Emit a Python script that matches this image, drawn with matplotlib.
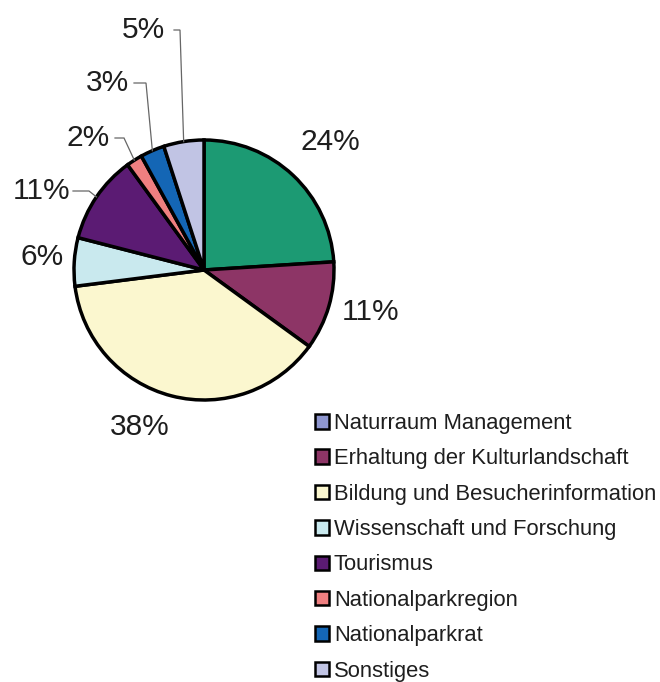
import numpy as np
import matplotlib
matplotlib.use("Agg")
import matplotlib.pyplot as plt
from matplotlib.patches import Patch

plt.rcParams['font.family'] = ['Liberation Sans', 'DejaVu Sans']

categories = ["Naturraum Management", "Erhaltung der Kulturlandschaft",
              "Bildung und Besucherinformation", "Wissenschaft und Forschung",
              "Tourismus", "Nationalparkregion", "Nationalparkrat", "Sonstiges"]
values = [24, 11, 38, 6, 11, 2, 3, 5]
pct_labels = ["24%", "11%", "38%", "6%", "11%", "2%", "3%", "5%"]
pie_colors = ["#1c9a73", "#8d3566", "#fbf7cf", "#c9e9ee", "#5b1b73",
              "#ef7f80", "#1466b5", "#c1c4e4"]
legend_colors = ["#8e96cf", "#8d3566", "#fbf7cf", "#c9e9ee", "#5b1b73",
                 "#ef7f80", "#1466b5", "#c1c4e4"]

W, H = 660, 682
fig = plt.figure(figsize=(W / 100, H / 100), dpi=100)
ax = fig.add_axes([0, 0, 1, 1])

cx, cy, r = 204, H - 270, 130
wedges, _ = ax.pie(values, colors=pie_colors, startangle=90, counterclock=False,
                   center=(cx, cy), radius=r, frame=True,
                   wedgeprops=dict(edgecolor="black", linewidth=2.5))
ax.set_xlim(0, W)
ax.set_ylim(0, H)
ax.set_aspect("equal")
ax.axis("off")

txt_kw = dict(fontsize=21.5, color="#1e1e1e", ha="center", va="center")
# direct labels (placed near their wedges)
direct = {0: (330, 142), 1: (371, 312), 2: (140, 427), 3: (42, 257)}
for i, (x, y) in direct.items():
    ax.text(x, H - y, pct_labels[i], **txt_kw)

# labels with leader lines
leader = {4: ((42, 191), 73, 89), 5: ((88, 138), 115, 124),
          6: ((107, 83), 134, 146), 7: ((143, 30), 174, 180)}
for i, ((x, y), x0, x1) in leader.items():
    ax.text(x, H - y, pct_labels[i], **txt_kw)
    w = wedges[i]
    mid = np.deg2rad((w.theta1 + w.theta2) / 2)
    ex, ey = cx + r * np.cos(mid), cy + r * np.sin(mid)
    ax.plot([x0, x1, ex], [H - y, H - y, ey], color="#666666", lw=0.9,
            solid_joinstyle="miter")

handles = [Patch(facecolor=c, edgecolor="black", linewidth=1.8) for c in legend_colors]
leg = ax.legend(handles, categories, loc="upper left",
                bbox_to_anchor=(315 / W, 1 - 413 / H), bbox_transform=fig.transFigure,
                frameon=False, fontsize=15.8, handlelength=0.64, handleheight=0.64,
                handletextpad=0.22, labelspacing=0.655, borderaxespad=0, borderpad=0)
for t in leg.get_texts():
    t.set_color("#1e1e1e")

fig.savefig("out.png", dpi=100)
